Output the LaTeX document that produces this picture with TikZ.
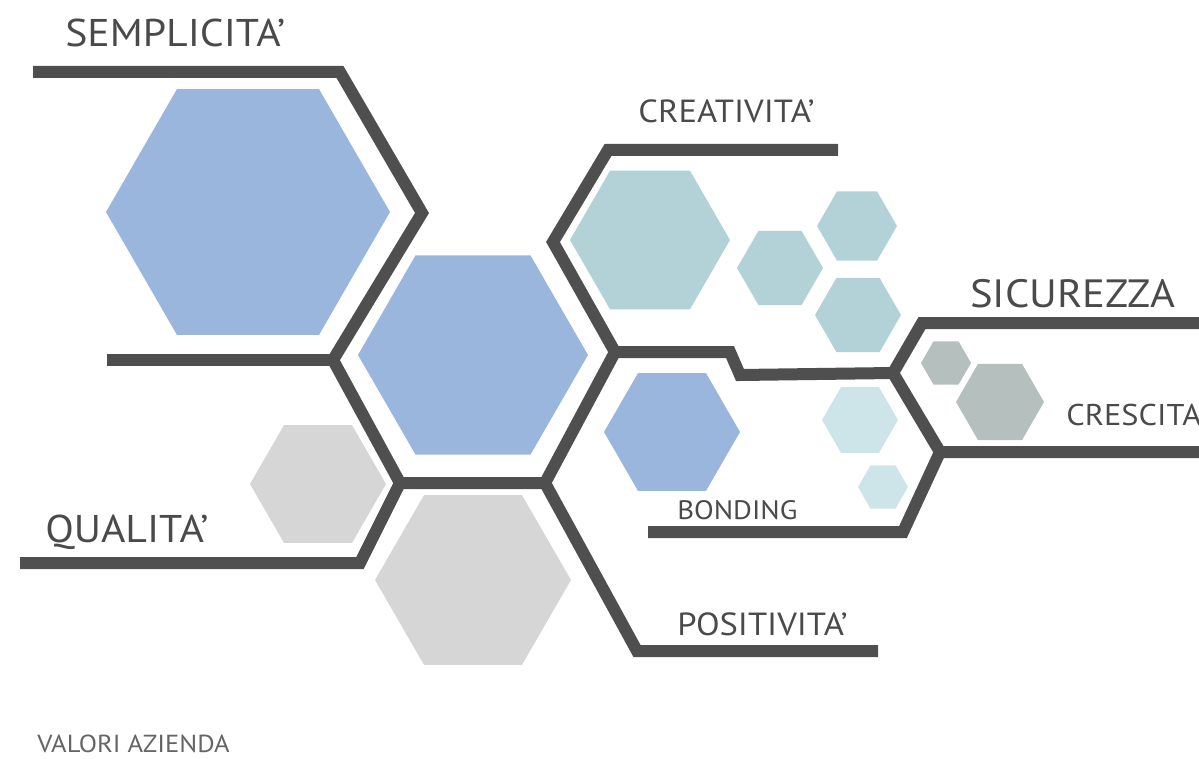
\documentclass[tikz,border=0pt]{standalone}
\usepackage{fontspec}
\setmainfont{PT Sans}[FakeStretch=1.08]
\definecolor{linegrey}{HTML}{4F4F4F}
\definecolor{textgrey}{HTML}{4A4A4A}
\definecolor{hexblue}{HTML}{9AB6DC}
\definecolor{hexteal}{HTML}{B2D2D8}
\definecolor{hexpale}{HTML}{CDE4E9}
\definecolor{hexslate}{HTML}{B4BFBE}
\definecolor{hexgrey}{HTML}{D6D6D6}
\tikzset{
  valline/.style={line width=9pt,linegrey,line join=miter},
  vallabel/.style={anchor=base west,inner sep=0pt,text=textgrey}
}
\begin{document}
\begin{tikzpicture}[x=0.75pt,y=-0.75pt]
    \useasboundingbox (0,0) rectangle (1199,759);
    %% hexagons
    \foreach \cx/\cy/\r/\c in {248/212/142/hexblue, 473/355/115/hexblue,
        650/240/80/hexteal, 780/268/43/hexteal, 857/226/40/hexteal, 858/315/43/hexteal,
        672/432/68/hexblue, 860/420/38/hexpale, 883/487/25/hexpale,
        946/363/25/hexslate, 1000/402/44/hexslate,
        318/484/68/hexgrey, 473/580/98/hexgrey}
        \fill[\c] (\cx,\cy) +(0:\r) -- +(60:\r) -- +(120:\r) -- +(180:\r) -- +(240:\r) -- +(300:\r) -- cycle;
    %% junctions
    \coordinate (s0) at (33,72);
    \coordinate (s1) at (340,72);
    \coordinate (s2) at (422,213);
    \coordinate (j1) at (333,360);
    \coordinate (l0) at (107,360);
    \coordinate (j2) at (400,483);
    \coordinate (j3) at (545,483);
    \coordinate (j4) at (615,352);
    \coordinate (c0) at (838,150);
    \coordinate (c1) at (608,150);
    \coordinate (c2) at (553,242);
    \coordinate (q0) at (20,563);
    \coordinate (q1) at (360,563);
    \coordinate (p0) at (878,651);
    \coordinate (p1) at (637,651);
    \coordinate (k1) at (730,352);
    \coordinate (k2) at (740,375);
    \coordinate (j5) at (893,373);
    \coordinate (r0) at (1199,323);
    \coordinate (r1) at (922,323);
    \coordinate (j6) at (940,452);
    \coordinate (g0) at (1199,452);
    \coordinate (b0) at (648,532);
    \coordinate (b1) at (903,532);
    %% lines
    \draw[valline] (s0) -- (s1) -- (s2) -- (j1) -- (j2) -- (j3) -- (j4) -- (c2) -- (c1) -- (c0);
    \draw[valline] (l0) -- (j1);
    \draw[valline] (q0) -- (q1) -- (j2);
    \draw[valline] (j3) -- (p1) -- (p0);
    \draw[valline] (j4) -- (k1) -- (k2) -- (j5) -- (r1) -- (r0);
    \draw[valline] (j5) -- (j6) -- (g0);
    \draw[valline] (j6) -- (b1) -- (b0);
    %% labels
    \node[vallabel,font=\fontsize{29}{29}\selectfont] (sempl) at (65,47) {SEMPLICITA’};
    \node[vallabel,font=\fontsize{24}{24}\selectfont] (creat) at (638,123) {CREATIVITA’};
    \node[vallabel,font=\fontsize{29.6}{30}\selectfont] (sicur) at (970,307) {SICUREZZA};
    \node[vallabel,font=\fontsize{22.5}{23}\selectfont] (cresc) at (1066,425) {CRESCITA’};
    \node[vallabel,font=\fontsize{29}{29}\selectfont] (qual) at (45,542) {QUALITA’};
    \node[vallabel,font=\fontsize{24}{24}\selectfont] (posit) at (677,635) {POSITIVITA’};
    \node[vallabel,font=\fontsize{20}{20}\selectfont] (bond) at (677,519) {BONDING};
    \node[vallabel,font=\fontsize{18.5}{18.5}\selectfont,text=textgrey!85] (valori) at (37,752) {VALORI AZIENDA};
\end{tikzpicture}
\end{document}
